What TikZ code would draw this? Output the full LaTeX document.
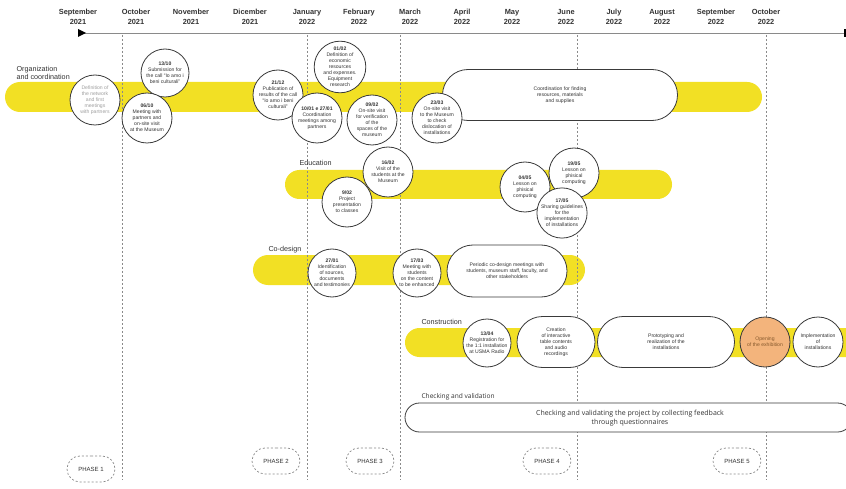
\documentclass[tikz,border=0pt]{standalone}
\usepackage{fontspec}
\setmainfont{Liberation Sans}
\newfontfamily\chkfont{Open Sans}
\usetikzlibrary{shapes.misc}
\definecolor{ybar}{HTML}{F2E024}
\definecolor{orng}{HTML}{F3B47C}
\definecolor{txt}{HTML}{333333}
\definecolor{edgec}{HTML}{3A3A3A}
\definecolor{guide}{HTML}{8A8A8A}
\begin{document}
\begin{tikzpicture}[x=1pt,y=-1pt,
  band/.style={rounded rectangle, fill=ybar, draw=none, inner sep=0pt},
  ev/.style={circle, draw=edgec, line width=0.8pt, fill=white, minimum size=#1, inner sep=0pt, align=center, font=\fontsize{5.1}{6}\selectfont, text=txt},
  ev/.default=50pt,
  pill/.style={rounded rectangle, draw=edgec, line width=0.8pt, fill=white, inner sep=0pt, align=center, font=\fontsize{5.1}{6}\selectfont, text=txt},
  month/.style={align=center, font=\fontsize{7.4}{9.5}\selectfont\bfseries, text=txt},
  lane/.style={anchor=west, align=left, font=\fontsize{7.2}{8.4}\selectfont, text=txt},
  phase/.style={rounded rectangle, draw=guide, dashed, dash pattern=on 2pt off 2pt, line width=0.7pt, minimum width=48pt, minimum height=26pt, inner sep=0pt, font=\fontsize{6}{7}\selectfont, text=txt},
  vguide/.style={draw=guide, line width=0.6pt, dash pattern=on 2pt off 2pt}
]
\useasboundingbox (0,0) rectangle (846,489);
\fill[white] (0,0) rectangle (846,489);
\clip (0,0) rectangle (846,489);

% timeline
\coordinate (tl0) at (78,33);
\coordinate (tl1) at (846,33);
\draw[line width=0.6pt, draw=guide] (tl0) -- (tl1);
\fill[black] (78,29) -- (86,33) -- (78,37) -- cycle;
\fill[black] (843.5,29) rectangle (846,37);

% months
\node[month] (m1) at (78,17) {September\\2021};
\node[month] (m2) at (136,17) {October\\2021};
\node[month] (m3) at (191,17) {November\\2021};
\node[month] (m4) at (250,17) {Dicember\\2021};
\node[month] (m5) at (307,17) {January\\2022};
\node[month] (m6) at (359,17) {February\\2022};
\node[month] (m7) at (410,17) {March\\2022};
\node[month] (m8) at (462,17) {April\\2022};
\node[month] (m9) at (512,17) {May\\2022};
\node[month] (m10) at (566,17) {June\\2022};
\node[month] (m11) at (614,17) {July\\2022};
\node[month] (m12) at (662,17) {August\\2022};
\node[month] (m13) at (716,17) {September\\2022};
\node[month] (m14) at (766,17) {October\\2022};

% bands
\node[band, minimum width=757pt, minimum height=30pt] (bOrg) at (383.5,97) {};
\node[band, minimum width=387pt, minimum height=29pt] (bEdu) at (478.5,184.5) {};
\node[band, minimum width=332pt, minimum height=30pt] (bCod) at (419,270) {};
\node[band, minimum width=470pt, minimum height=29pt] (bCon) at (640,342.5) {};

% dashed guides
\foreach \gx in {122,307,400,577,766}
  \draw[vguide] (\gx,35) -- (\gx,480);

% lane labels
\node[lane] (lOrg) at (13,73) {Organization\\and coordination};
\node[lane] (lEdu) at (296,163) {Education};
\node[lane] (lCod) at (265,250) {Co-design};
\node[lane] (lCon) at (418,322) {Construction};
\node[lane, font=\chkfont\fontsize{6.6}{8}\selectfont] (lChk) at (418,397) {Checking and validation};

% organization and coordination
\node[pill, minimum width=235pt, minimum height=51pt] (oPill) at (560,95) {Coordination for finding\\resources, materials\\and supplies};
\node[ev, text=gray!75] (o1) at (95,100) {Definition of\\the network\\and first\\meetings\\with partners};
\node[ev=48pt] (o2) at (165,73) {\textbf{13/10}\\Submission for\\the call “Io amo i\\beni culturali”};
\node[ev] (o3) at (147,118) {\textbf{06/10}\\Meeting with\\partners and\\on-site visit\\at the Museum};
\node[ev] (o4) at (278,95) {\textbf{21/12}\\Publication of\\results of the call\\“Io amo i beni\\culturali”};
\node[ev] (o5) at (340,67) {\textbf{01/02}\\Definition of\\economic\\resources\\and expenses.\\Equipment\\research};
\node[ev] (o6) at (317,118) {\textbf{10/01 e 27/01}\\Coordination\\meetings among\\partners};
\node[ev] (o7) at (372,120) {\textbf{09/02}\\On-site visit\\for verification\\of the\\spaces of the\\museum};
\node[ev] (o8) at (437,118) {\textbf{23/03}\\On-site visit\\to the Museum\\to check\\dislocation of\\installations};

% education
\node[ev] (e2) at (347,202) {\textbf{9/02}\\Project\\presentation\\to classes};
\node[ev] (e1) at (388,172) {\textbf{16/02}\\Visit of the\\students at the\\Museum};
\node[ev] (e3) at (525,187) {\textbf{04/05}\\Lesson on\\phisical\\computing};
\node[ev] (e4) at (574,173) {\textbf{19/05}\\Lesson on\\phisical\\computing};
\node[ev] (e5) at (562,213) {\textbf{17/05}\\Sharing guidelines\\for the\\implementation\\of installations};

% co-design
\node[ev=48pt] (d1) at (332,273) {\textbf{27/01}\\Identification\\of sources,\\documents\\and testimonies};
\node[ev=48pt] (d2) at (417,273) {\textbf{17/03}\\Meeting with\\students\\on the content\\to be enhanced};
\node[pill, minimum width=120pt, minimum height=52pt] (dPill) at (507,271) {Periodic co-design meetings with\\students, museum staff, faculty, and\\other stakeholders};

% construction
\node[ev=48pt] (k1) at (487,343) {\textbf{13/04}\\Registration for\\the 1:1 installation\\at USMA Radio};
\node[pill, minimum width=78pt, minimum height=51pt] (k2) at (556,342) {Creation\\of interactive\\table contents\\and audio\\recordings};
\node[pill, minimum width=137pt, minimum height=51pt] (k3) at (666,342) {Prototyping and\\realization of the\\installations};
\node[ev, fill=orng, text=brown!70!black] (k4) at (765,342) {Opening\\of the exhibition};
\node[ev] (k5) at (818,342) {Implementation\\of\\installations};

% checking and validation
\node[rounded rectangle, draw=edgec, line width=0.8pt, fill=white, inner sep=0pt, minimum width=447pt, minimum height=29pt] (cPill) at (628.5,417.5) {};
\node[align=center, font=\chkfont\fontsize{7}{9}\selectfont, text=txt] (cTxt) at (630,418) {Checking and validating the project by collecting feedback\\through questionnaires};

% phases
\node[phase] (p1) at (91,469) {PHASE 1};
\node[phase] (p2) at (276,461) {PHASE 2};
\node[phase] (p3) at (370,461) {PHASE 3};
\node[phase] (p4) at (547,461) {PHASE 4};
\node[phase] (p5) at (737,461) {PHASE 5};
\end{tikzpicture}
\end{document}
